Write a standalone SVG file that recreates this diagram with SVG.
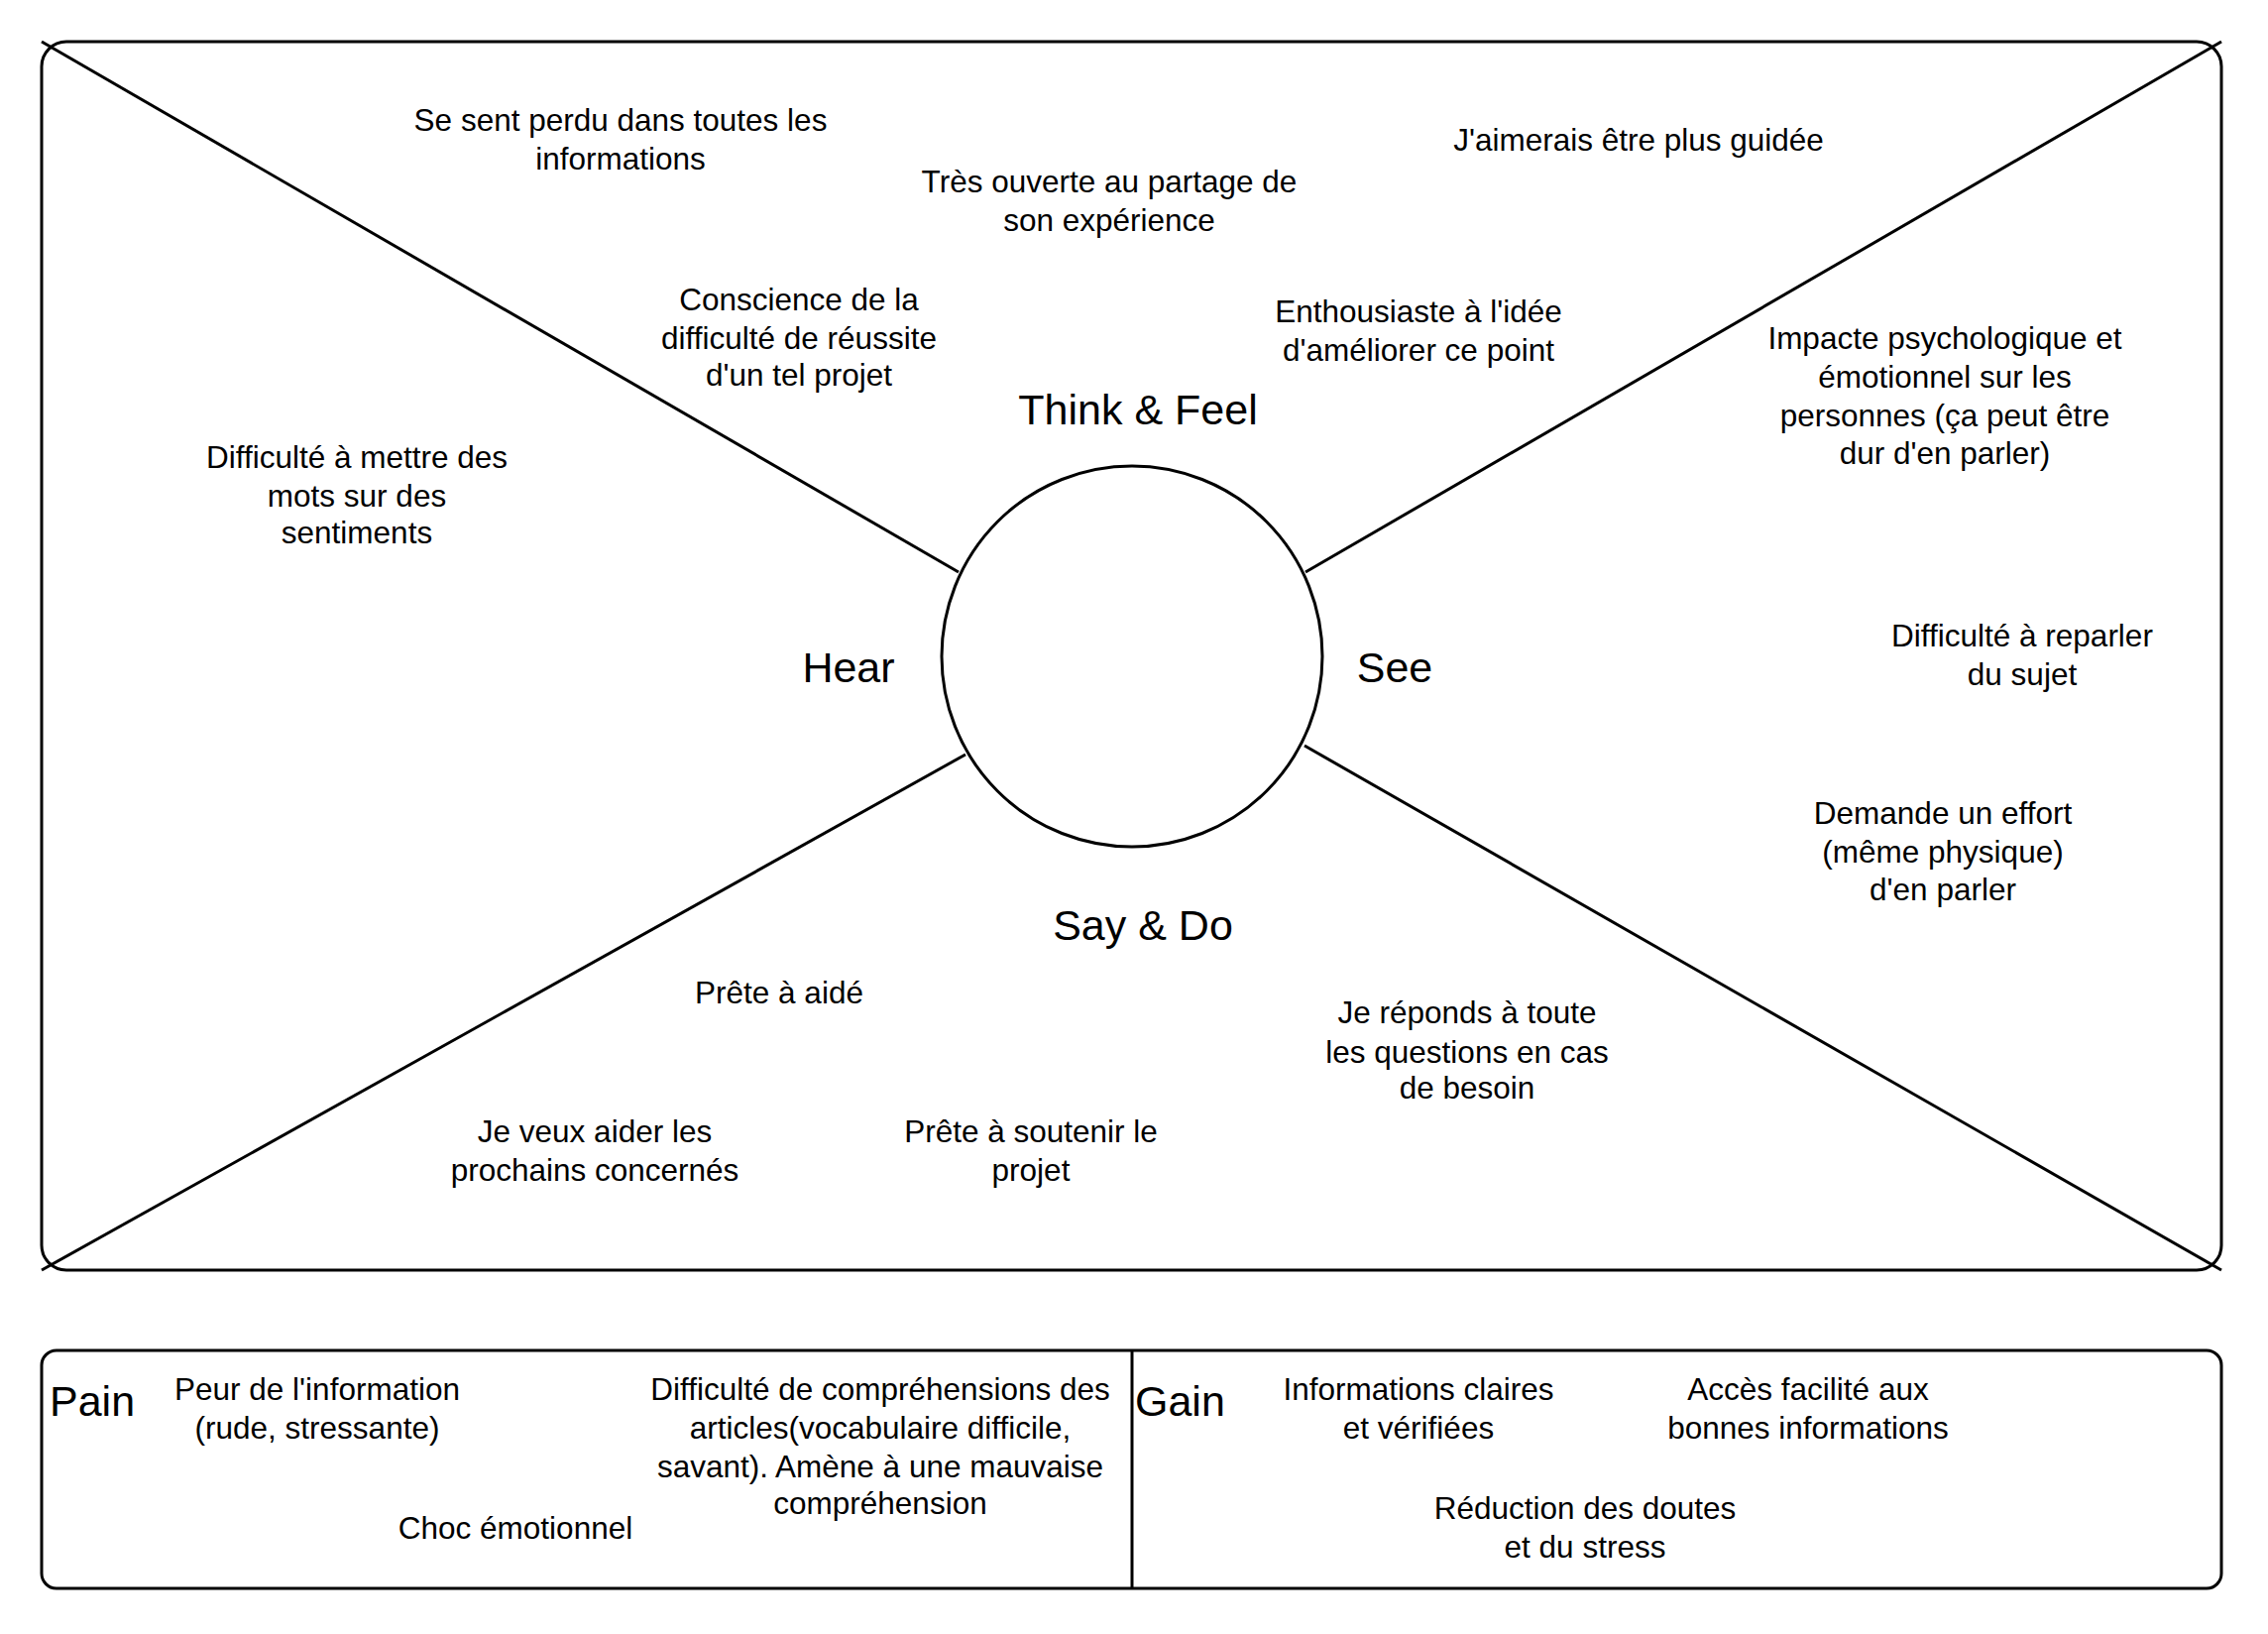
<svg xmlns="http://www.w3.org/2000/svg" width="2288" height="1648" viewBox="0 0 2288 1648">
<style>
.box{fill:none;stroke:#000;stroke-width:3}
.ln{stroke:#000;stroke-width:3;fill:none}
text{font-family:"Liberation Sans",Arial,Helvetica,sans-serif;fill:#000}
.t{font-size:31.5px;text-anchor:middle}
.h{font-size:43px;text-anchor:middle}
.hl{font-size:43px;text-anchor:start}
</style>
<rect width="2288" height="1648" fill="#fff"/>
<g id="frame">
<rect class="box" x="42" y="42" width="2199" height="1239" rx="25" ry="25"/>
</g>
<g id="connectors">
<line class="ln" x1="42" y1="42" x2="967" y2="577"/>
<line class="ln" x1="2241" y1="42" x2="1317" y2="577"/>
<line class="ln" x1="42" y1="1281" x2="974" y2="761"/>
<line class="ln" x1="2241" y1="1281" x2="1316" y2="752"/>
</g>
<g id="center">
<circle class="box" cx="1142" cy="662" r="192"/>
</g>
<g id="label-think"><text class="h" x="1148" y="428">Think &amp; Feel</text></g>
<g id="label-hear"><text class="h" x="856" y="688">Hear</text></g>
<g id="label-see"><text class="h" x="1407" y="688">See</text></g>
<g id="label-say"><text class="h" x="1153" y="948">Say &amp; Do</text></g>

<g id="n1"><text class="t"><tspan x="626" y="132">Se sent perdu dans toutes les</tspan><tspan x="626" y="171">informations</tspan></text></g>
<g id="n2"><text class="t"><tspan x="1119" y="194">Très ouverte au partage de</tspan><tspan x="1119" y="233">son expérience</tspan></text></g>
<g id="n3"><text class="t" x="1653" y="152">J'aimerais être plus guidée</text></g>
<g id="n4"><text class="t"><tspan x="806" y="313">Conscience de la</tspan><tspan x="806" y="352">difficulté de réussite</tspan><tspan x="806" y="389">d'un tel projet</tspan></text></g>
<g id="n5"><text class="t"><tspan x="1431" y="325">Enthousiaste à l'idée</tspan><tspan x="1431" y="364">d'améliorer ce point</tspan></text></g>
<g id="n6"><text class="t"><tspan x="1962" y="352">Impacte psychologique et</tspan><tspan x="1962" y="391">émotionnel sur les</tspan><tspan x="1962" y="430">personnes (ça peut être</tspan><tspan x="1962" y="468">dur d'en parler)</tspan></text></g>
<g id="n7"><text class="t"><tspan x="360" y="472">Difficulté à mettre des</tspan><tspan x="360" y="511">mots sur des</tspan><tspan x="360" y="548">sentiments</tspan></text></g>
<g id="n8"><text class="t"><tspan x="2040" y="652">Difficulté à reparler</tspan><tspan x="2040" y="691">du sujet</tspan></text></g>
<g id="n9"><text class="t"><tspan x="1960" y="831">Demande un effort</tspan><tspan x="1960" y="870">(même physique)</tspan><tspan x="1960" y="908">d'en parler</tspan></text></g>
<g id="n10"><text class="t" x="786" y="1012">Prête à aidé</text></g>
<g id="n11"><text class="t"><tspan x="1480" y="1032">Je réponds à toute</tspan><tspan x="1480" y="1072">les questions en cas</tspan><tspan x="1480" y="1108">de besoin</tspan></text></g>
<g id="n12"><text class="t"><tspan x="600" y="1152">Je veux aider les</tspan><tspan x="600" y="1191">prochains concernés</tspan></text></g>
<g id="n13"><text class="t"><tspan x="1040" y="1152">Prête à soutenir le</tspan><tspan x="1040" y="1191">projet</tspan></text></g>

<g id="pain-gain">
<rect class="box" x="42" y="1362" width="2199" height="240" rx="15" ry="15"/>
<line class="ln" x1="1142" y1="1362" x2="1142" y2="1602"/>
</g>
<g id="label-pain"><text class="hl" x="50" y="1428">Pain</text></g>
<g id="label-gain"><text class="hl" x="1145" y="1428">Gain</text></g>
<g id="p1"><text class="t"><tspan x="320" y="1412">Peur de l'information</tspan><tspan x="320" y="1451">(rude, stressante)</tspan></text></g>
<g id="p2"><text class="t" x="520" y="1552">Choc émotionnel</text></g>
<g id="p3"><text class="t"><tspan x="888" y="1412">Difficulté de compréhensions des</tspan><tspan x="888" y="1451">articles(vocabulaire difficile,</tspan><tspan x="888" y="1490">savant). Amène à une mauvaise</tspan><tspan x="888" y="1527">compréhension</tspan></text></g>
<g id="g1"><text class="t"><tspan x="1431" y="1412">Informations claires</tspan><tspan x="1431" y="1451">et vérifiées</tspan></text></g>
<g id="g2"><text class="t"><tspan x="1824" y="1412">Accès facilité aux</tspan><tspan x="1824" y="1451">bonnes informations</tspan></text></g>
<g id="g3"><text class="t"><tspan x="1599" y="1532">Réduction des doutes</tspan><tspan x="1599" y="1571">et du stress</tspan></text></g>
</svg>
